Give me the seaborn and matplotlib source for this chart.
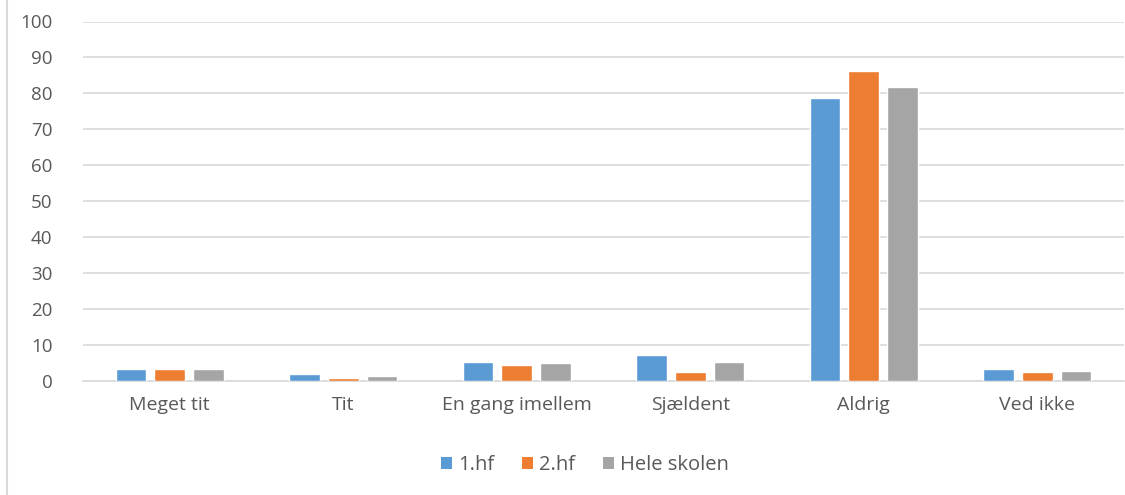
import matplotlib
matplotlib.use("Agg")
import matplotlib.pyplot as plt
import seaborn as sns
import pandas as pd
from matplotlib.lines import Line2D
from matplotlib.patches import Patch

categories = ["Meget tit", "Tit", "En gang imellem", "Sjældent", "Aldrig", "Ved ikke"]
series_names = ["1.hf", "2.hf", "Hele skolen"]
hf1 = [3.3, 2.0, 5.2, 7.3, 78.6, 3.3]
hf2 = [3.4, 0.8, 4.4, 2.4, 86.1, 2.4]
hele = [3.3, 1.4, 4.9, 5.2, 81.8, 2.9]
colors = ["#5B9BD5", "#ED7D31", "#A5A5A5"]
y_ticks = list(range(0, 101, 10))

rows = []
for name, vals in zip(series_names, [hf1, hf2, hele]):
    for cat, v in zip(categories, vals):
        rows.append({"Kategori": cat, "Serie": name, "Procent": v})
df = pd.DataFrame(rows)

sns.set_theme(style="white")
plt.rcParams["font.family"] = ["Open Sans", "DejaVu Sans"]
text_color = "#595959"

fig = plt.figure(figsize=(11.25, 4.95), dpi=100)
ax = fig.add_axes([83 / 1125, 1 - 381 / 495, (1124 - 83) / 1125, (381 - 21.5) / 495])

sns.barplot(data=df, x="Kategori", y="Procent", hue="Serie", order=categories,
            hue_order=series_names, palette=colors, width=0.67, gap=0.21,
            saturation=1, legend=False, ax=ax, zorder=3)

ax.set_ylim(0, 100)
ax.set_yticks(y_ticks)
ax.set_xlim(-0.5, len(categories) - 0.5)
ax.yaxis.grid(True, color="#D9D9D9", linewidth=1.2, zorder=0)
ax.set_axisbelow(True)
for s in ["top", "right", "left"]:
    ax.spines[s].set_visible(False)
ax.spines["bottom"].set_color("#D9D9D9")
ax.spines["bottom"].set_linewidth(1.2)
ax.set_xlabel("")
ax.set_ylabel("")
ax.tick_params(axis="y", length=0, labelsize=13.5, colors=text_color, pad=22)
ax.tick_params(axis="x", length=0, labelsize=14, colors=text_color, pad=11)

handles = [Patch(facecolor=c, edgecolor="none", label=n) for c, n in zip(colors, series_names)]
leg = fig.legend(handles=handles, loc="center", bbox_to_anchor=(0.52, 1 - 465 / 495), ncol=3,
                 frameon=False, handlelength=0.55, handleheight=0.55, handletextpad=0.3,
                 columnspacing=1.4, fontsize=14.5)
for t in leg.get_texts():
    t.set_color(text_color)

# chart-area border on the left edge
fig.add_artist(Line2D([7 / 1125, 7 / 1125], [0, 1], color="#D9D9D9", linewidth=1.5,
                      transform=fig.transFigure))

fig.savefig("out.png", dpi=100)
